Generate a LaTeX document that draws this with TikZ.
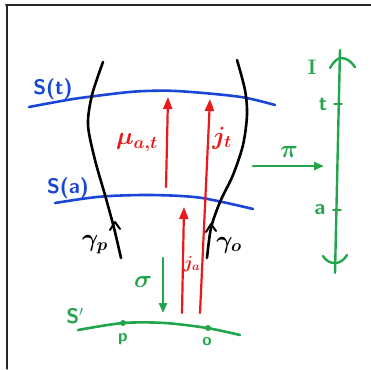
\documentclass[tikz,border=0pt]{standalone}
\usepackage{bm}
\usetikzlibrary{arrows.meta}
\begin{document}
\begin{tikzpicture}[x=1pt,y=-1pt,line cap=round,line join=round]
\definecolor{pblue}{RGB}{25,70,215}
\definecolor{pred}{RGB}{235,25,25}
\definecolor{pgreen}{RGB}{35,165,75}
\tikzset{
  stroke/.style={line width=2.6pt},
  thinstroke/.style={line width=2pt},
  redarrow/.style={pred,line width=2.2pt,-{Triangle[length=12pt,width=9pt]}},
  greenarrow/.style={pgreen,line width=2.4pt,-{Triangle[length=10pt,width=8pt]}},
  lbl/.style={inner sep=0pt,font=\fontsize{21}{25}\selectfont\sffamily\bfseries},
  mlbl/.style={inner sep=0pt,font=\fontsize{23}{27}\selectfont},
  dotmark/.style={circle,fill=pgreen,inner sep=0pt,minimum size=6pt},
}
\useasboundingbox (0,0) rectangle (371,369);
% frame
\draw[line width=2pt,black!85] (6,5) -- (371,5);
\draw[line width=2.4pt,black!85] (7,5) -- (7,37);
\draw[line width=1.3pt,black!85] (7,37) -- (7,369);
% surfaces
\draw[stroke,pblue] plot[smooth] coordinates {(29,107) (67,100) (90,96.7) (133,91.7) (167,90.7) (200,92.7) (243,97.3) (275,105)};
\draw[stroke,pblue] plot[smooth] coordinates {(55,203) (100,196.7) (150,195) (200,197.7) (253,209)};
% worldlines
\draw[stroke,black] plot[smooth] coordinates {(103,62) (92,95) (88,125) (95,160) (105,195) (114,228) (121,258)};
\draw[thinstroke,black] (110,230) -- (115,222) -- (120,229);
\draw[stroke,black] plot[smooth] coordinates {(237,60) (245,90) (247,115) (243,145) (233,175) (220,202) (211,228) (207,258)};
\draw[thinstroke,black] (206,232) -- (211,224) -- (216,231);
% red arrows
\coordinate (mub) at (166,187); \coordinate (mut) at (168,97);
\coordinate (jtb) at (200,313); \coordinate (jtt) at (210,99);
\coordinate (jab) at (182,313); \coordinate (jat) at (184,207);
\draw[redarrow] (mub) -- (mut);
\draw[redarrow] (jtb) -- (jtt);
\draw[redarrow] (jab) -- (jat);
% sigma, pi
\coordinate (sgt) at (163,258); \coordinate (sgb) at (163,313);
\draw[greenarrow] (sgt) -- (sgb);
\coordinate (pil) at (253,166); \coordinate (pir) at (324,166);
\draw[greenarrow] (pil) -- (pir);
% time axis
\coordinate (axb) at (335,273); \coordinate (axt) at (340,50);
\draw[pgreen,line width=2.4pt] (axb) -- (axt);
\draw[pgreen,line width=2.4pt] (330,68) .. controls (334,61) and (338,58) .. (341,58) .. controls (346,58) and (351,61) .. (355,67);
\draw[pgreen,line width=2.4pt] (323,256) .. controls (327,262) and (331,263) .. (335,263) .. controls (340,263) and (344,260) .. (347,255);
\draw[pgreen,line width=1.8pt] (334,104) -- (342,104);
\draw[pgreen,line width=1.8pt] (333,210) -- (341,210);
% S'
\draw[stroke,pgreen] plot[smooth] coordinates {(78,330) (123,323) (165,323) (207,328) (240,335)};
\node[dotmark] (pp) at (123,323) {};
\node[dotmark] (po) at (208,328) {};
% labels
\node[lbl,pblue] (st) at (53,89) {S(t)};
\node[lbl,pblue] (sa) at (68,188) {S(a)};
\node[mlbl,pred,font=\fontsize{25}{29}\selectfont] (mu) at (137,143) {$\bm{\mu_{a,t}}$};
\node[mlbl,pred] (jt) at (222,138) {$\bm{j_t}$};
\node[mlbl,pred,font=\fontsize{17}{20}\selectfont] (ja) at (192,264) {$\bm{j_a}$};
\node[mlbl,black] (gp) at (95,245) {$\bm{\gamma_p}$};
\node[mlbl,black] (go) at (229,245) {$\bm{\gamma_o}$};
\node[mlbl,pgreen,font=\fontsize{32}{36}\selectfont] (sig) at (143,282) {$\bm{\sigma}$};
\node[mlbl,pgreen,font=\fontsize{32}{36}\selectfont] (pi) at (289,152) {$\bm{\pi}$};
\node[mlbl,pgreen,font=\fontsize{21}{25}\selectfont\rmfamily\bfseries] (I) at (312,67) {I};
\node[lbl,pgreen] (t) at (323,104) {t};
\node[lbl,pgreen] (a) at (320,210) {a};
\node[lbl,pgreen] (sp) at (75,316) {S$'$};
\node[lbl,pgreen,font=\fontsize{17}{20}\selectfont\sffamily\bfseries] (p) at (123,339) {p};
\node[lbl,pgreen,font=\fontsize{17}{20}\selectfont\sffamily\bfseries] (o) at (207,342) {o};
\end{tikzpicture}
\end{document}
